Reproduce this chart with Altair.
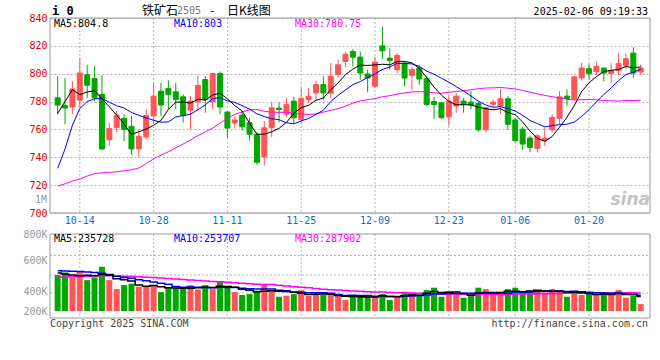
import altair as alt
import pandas as pd

dates = ["10-09","10-10","10-11","10-14","10-15","10-16","10-17","10-18","10-21","10-22",
         "10-23","10-24","10-25","10-28","10-29","10-30","10-31","11-01","11-04","11-05",
         "11-06","11-07","11-08","11-11","11-12","11-13","11-14","11-15","11-18","11-19",
         "11-20","11-21","11-22","11-25","11-26","11-27","11-28","11-29","12-02","12-03",
         "12-04","12-05","12-06","12-09","12-10","12-11","12-12","12-13","12-16","12-17",
         "12-18","12-19","12-20","12-23","12-24","12-25","12-26","12-27","12-30","12-31",
         "01-02","01-03","01-06","01-07","01-08","01-09","01-10","01-13","01-14","01-15",
         "01-16","01-17","01-20","01-21","01-22","01-23","01-24","01-27","02-05","02-06"]

opens = [782.7,777.3,776.1,781.0,799.3,796.5,785.1,752.6,761.4,768.0,
         762.2,746.0,754.6,769.7,787.5,789.4,787.0,783.4,773.9,779.9,
         795.8,779.9,800.1,772.5,764.8,770.3,764.8,756.5,740.3,761.2,
         775.3,771.0,780.3,767.2,781.4,786.2,792.2,786.0,799.3,808.8,
         816.0,811.9,799.8,791.0,820.0,811.2,802.9,807.6,798.8,804.1,
         796.4,780.0,779.1,769.0,776.8,780.4,779.6,778.7,759.7,778.0,
         776.8,782.0,766.8,760.2,753.8,746.4,751.9,759.7,768.0,783.9,
         782.0,797.0,803.6,801.5,804.1,800.1,802.2,805.7,814.8,801.2]
highs = [798.2,797.0,794.7,811.2,806.5,805.3,798.9,764.9,773.2,770.9,
         769.7,760.2,774.4,793.4,793.4,795.3,793.4,785.1,783.9,798.6,
         798.2,800.1,801.7,772.5,769.7,773.1,768.4,758.0,766.0,780.0,
         779.5,782.6,783.3,789.8,789.8,795.0,798.1,807.6,810.0,815.5,
         817.6,816.0,802.9,811.9,833.8,818.3,814.8,808.8,805.2,806.4,
         798.1,783.3,779.1,783.9,786.3,782.7,787.5,780.4,775.6,781.5,
         789.1,783.9,768.0,762.1,755.4,756.6,761.4,770.9,787.5,788.7,
         798.6,807.7,807.2,808.8,804.1,807.7,814.8,814.8,819.0,806.5]
lows = [770.9,763.7,771.0,775.6,782.7,780.4,745.9,748.3,758.0,751.6,
        741.7,740.0,753.0,764.9,769.7,774.4,774.4,764.9,760.2,773.2,
        772.0,774.4,771.0,754.0,760.8,759.0,752.0,734.7,733.9,754.5,
        765.0,769.0,764.0,764.8,779.1,780.3,781.4,782.6,797.0,805.0,
        805.2,795.7,786.7,789.8,810.5,802.9,800.0,791.0,788.1,792.2,
        776.7,767.6,767.6,762.6,772.0,772.0,774.4,758.3,758.3,776.0,
        770.9,759.7,750.7,745.2,743.6,743.6,748.3,757.8,763.7,776.8,
        781.0,795.0,795.8,799.3,794.6,793.4,799.0,803.0,797.0,799.3]
closes = [777.5,775.4,789.1,800.5,791.7,782.7,745.9,760.6,770.1,760.0,
          746.0,755.0,770.0,783.9,777.5,785.1,781.5,770.1,780.4,791.5,
          781.5,800.1,776.1,761.0,766.8,761.9,756.5,736.4,761.2,775.5,
          774.3,778.0,768.4,782.2,783.8,792.2,786.2,798.1,806.4,814.0,
          811.9,800.5,796.9,808.3,816.4,809.5,813.1,796.9,802.9,796.2,
          777.9,777.9,768.4,780.4,783.9,778.0,777.5,759.7,775.6,779.6,
          782.0,763.7,751.9,749.5,747.1,755.4,753.8,768.5,783.4,782.2,
          797.7,804.1,800.1,805.3,800.5,802.2,807.2,810.7,800.5,804.0]
volumes = [577000,619000,540000,640000,496000,540000,710000,496000,352000,416000,
           438000,390000,390000,416000,304000,374000,363000,363000,416000,347000,
           416000,352000,464000,379000,304000,257000,272000,326000,427000,336000,
           229000,246000,272000,336000,240000,257000,257000,257000,240000,176000,
           240000,229000,240000,240000,272000,176000,229000,309000,294000,257000,
           336000,374000,229000,320000,272000,213000,240000,374000,352000,257000,
           257000,352000,374000,309000,309000,320000,299000,352000,336000,229000,
           299000,257000,283000,257000,272000,257000,336000,213000,240000,112000]

ma5_head = [771.5, 780.0, 788.5, 785.0]
ma10_head = [732.0, 746.0, 763.0, 775.0, 780.0, 782.0, 782.3, 779.5, 777.0]
ma30_head = [719.3, 721.0, 723.0, 724.3, 726.5, 728.3, 728.8, 729.2, 729.6, 730.3,
             731.0, 732.3, 735.5, 739.0, 741.5, 744.0, 746.7, 749.5, 752.5, 755.5,
             758.3, 761.0, 764.5, 768.0, 770.8, 772.6, 774.0, 774.3, 773.0]
vma5_head = [610000, 594000, 578000, 565000]
vma10_head = [647000, 643000, 638000, 633000, 627000, 620000, 605000, 585000, 560000]
vma30_head = [541000, 545000, 550000, 555000, 560000, 565000, 567000, 565000, 562000, 558000,
              553000, 548000, 543000, 537000, 530000, 522000, 514000, 506000, 498000, 490000,
              482000, 475000, 468000, 460000, 452000, 445000, 438000, 431000, 427000]

label_dates = ["10-14", "10-28", "11-11", "11-25", "12-09", "12-23", "01-06", "01-20"]
price_ticks = [700, 720, 740, 760, 780, 800, 820, 840]
vol_tick_values = [0, 321000, 818000, 1236000]
vol_tick_text = ["200K", "400K", "600K", "800K"]
vol_grid = [289000, 578000, 891000]

RED = "#ff5555"
GREEN = "#00a800"
MONO = "DejaVu Sans Mono"

df = pd.DataFrame({"date": dates, "open": opens, "high": highs, "low": lows,
                   "close": closes, "vol": volumes})
df["i"] = range(len(df))
df["col"] = [RED if c >= o else GREEN for o, c in zip(opens, closes)]


def moving(series, n, head):
    r = series.rolling(n).mean().tolist()
    return head + r[len(head):]


df["ma5"] = moving(df["close"], 5, ma5_head)
df["ma10"] = moving(df["close"], 10, ma10_head)
df["ma30"] = moving(df["close"], 30, ma30_head)
df["vma5"] = moving(df["vol"], 5, vma5_head)
df["vma10"] = moving(df["vol"], 10, vma10_head)
df["vma30"] = moving(df["vol"], 30, vma30_head)

lab = df[df["date"].isin(label_dates)]

W, H = 600, 300
PH = 195          # price panel bottom
VT, VB = 216, 300  # volume panel top / bottom

xs = alt.Scale(domain=[-0.36, 79.58], nice=False, zero=False)
ys = alt.Scale(domain=[700, 840], range=[PH, 0], nice=False, zero=False)
vs = alt.Scale(domain=[-112000, 1236000], range=[VB, VT], nice=False, zero=False)

X = alt.X("i:Q", scale=xs, axis=None)

price_axis = alt.Axis(values=price_ticks, orient="left", grid=True, gridColor="#b4b4b4",
                      gridDash=[2, 2], domain=False, ticks=False, tickSize=0,
                      labelColor="#e00000", labelFont=MONO, labelFontSize=10,
                      labelPadding=3, labelFlush=False, title=None)

expr = "''"
for v, t in reversed(list(zip(vol_tick_values, vol_tick_text))):
    expr = f"datum.value == {v} ? '{t}' : ({expr})"
vol_axis = alt.Axis(values=vol_tick_values, orient="left", grid=False, domain=False,
                    ticks=False, tickSize=0, labelColor="#999999", labelFont=MONO,
                    labelFontSize=10, labelPadding=3, labelFlush=False,
                    labelExpr=expr, title=None)

one = alt.Data(values=[{}])


def txt(t, x, y, color="#000000", size=10, font=MONO, align="left", weight="normal", style="normal"):
    return alt.Chart(one).mark_text(text=t, align=align, baseline="middle", fontSize=size,
                                    font=font, color=color, fontWeight=weight,
                                    fontStyle=style).encode(x=alt.value(x), y=alt.value(y))


# ---------- price panel ----------
base = alt.Chart(df)
vgrid_p = alt.Chart(lab).mark_rule(color="#b4b4b4", strokeDash=[2, 2], strokeWidth=1).encode(
    x=X, y=alt.value(0), y2=alt.value(PH))
wick = base.mark_rule(strokeWidth=1).encode(
    x=X, y=alt.Y("low:Q", scale=ys, axis=price_axis), y2="high:Q",
    color=alt.Color("col:N", scale=None))
body = base.mark_bar(size=5, strokeWidth=1).encode(
    x=X, y=alt.Y("open:Q", scale=ys), y2="close:Q",
    color=alt.Color("col:N", scale=None), stroke=alt.Stroke("col:N", scale=None))
ma5 = base.mark_line(color="#000000", strokeWidth=1).encode(x=X, y=alt.Y("ma5:Q", scale=ys))
ma10 = base.mark_line(color="#0000ff", strokeWidth=1).encode(x=X, y=alt.Y("ma10:Q", scale=ys))
ma30 = base.mark_line(color="#ff00ff", strokeWidth=1).encode(x=X, y=alt.Y("ma30:Q", scale=ys))
frame_p = alt.Chart(one).mark_rect(filled=False, stroke="#999999", strokeWidth=1).encode(
    x=alt.value(0), x2=alt.value(W), y=alt.value(0), y2=alt.value(PH))
date_text = alt.Chart(lab).mark_text(font=MONO, fontSize=10, color="#0a70c8", baseline="middle").encode(
    x=X, y=alt.value(PH + 8), text="date:N")

price = alt.layer(vgrid_p, wick, body, ma30, ma10, ma5, frame_p, date_text)

# ---------- volume panel ----------
vbase = alt.Chart(df)
vgrid_v = alt.Chart(lab).mark_rule(color="#b4b4b4", strokeDash=[2, 2], strokeWidth=1).encode(
    x=X, y=alt.value(VT), y2=alt.value(VB))
hgrid_v = alt.Chart(pd.DataFrame({"g": vol_grid})).mark_rule(
    color="#b4b4b4", strokeDash=[2, 2], strokeWidth=1).encode(
    y=alt.Y("g:Q", scale=vs), x=alt.value(0), x2=alt.value(W))
vbars = vbase.mark_bar(size=6).encode(
    x=X, y=alt.Y("vol:Q", scale=vs, axis=vol_axis), y2=alt.datum(0),
    color=alt.Color("col:N", scale=None))
vma30 = vbase.mark_line(color="#ff00ff", strokeWidth=1.5, interpolate="step").encode(
    x=X, y=alt.Y("vma30:Q", scale=vs))
vma10 = vbase.mark_line(color="#0000ff", strokeWidth=1.5, interpolate="step").encode(
    x=X, y=alt.Y("vma10:Q", scale=vs))
vma5 = vbase.mark_line(color="#000000", strokeWidth=1.5, interpolate="step").encode(
    x=X, y=alt.Y("vma5:Q", scale=vs))
frame_v = alt.Chart(one).mark_rect(filled=False, stroke="#999999", strokeWidth=1).encode(
    x=alt.value(0), x2=alt.value(W), y=alt.value(VT), y2=alt.value(VB))

volume = alt.layer(hgrid_v, vgrid_v, vbars, vma30, vma10, vma5, frame_v)

# ---------- texts ----------
texts = alt.layer(
    txt("i 0", 2, -7, size=12, weight="bold"),
    txt("铁矿石", 92, -7, size=12, font="Noto Sans CJK SC"),
    txt("2505", 127, -7, color="#777777", size=10),
    txt("-", 159, -7, size=11),
    txt("日K线图", 177, -7, size=12, font="Noto Sans CJK SC"),
    txt("2025-02-06 09:19:33", 598, -6, align="right"),
    txt("MA5:804.8", 4, 6),
    txt("MA10:803", 124, 6, color="#0000ff"),
    txt("MA30:780.75", 245, 6, color="#ff00ff"),
    txt("1M", -3, 181.5, color="#999999", align="right"),
    txt("sina", 600, 182, color="#c4c4c4", size=17, font="DejaVu Sans", align="right",
        weight="bold", style="italic"),
    txt("MA5:235728", 4, 220.5),
    txt("MA10:253707", 124, 220.5, color="#0000ff"),
    txt("MA30:287902", 245, 220.5, color="#ff00ff"),
    txt("Copyright 2025 SINA.COM", 0, 305.5, color="#444444"),
    txt("http://finance.sina.com.cn", 598, 305.5, color="#444444", align="right"),
)

chart = alt.layer(price, volume, texts).resolve_scale(y="independent").properties(
    width=W, height=H,
    autosize=alt.AutoSizeParams(type="none"),
    padding={"left": 50, "top": 18, "right": 10, "bottom": 42},
    background="#ffffff",
).configure_view(stroke=None)

chart.save("out.html", embed_options={"renderer": "svg", "actions": False})
